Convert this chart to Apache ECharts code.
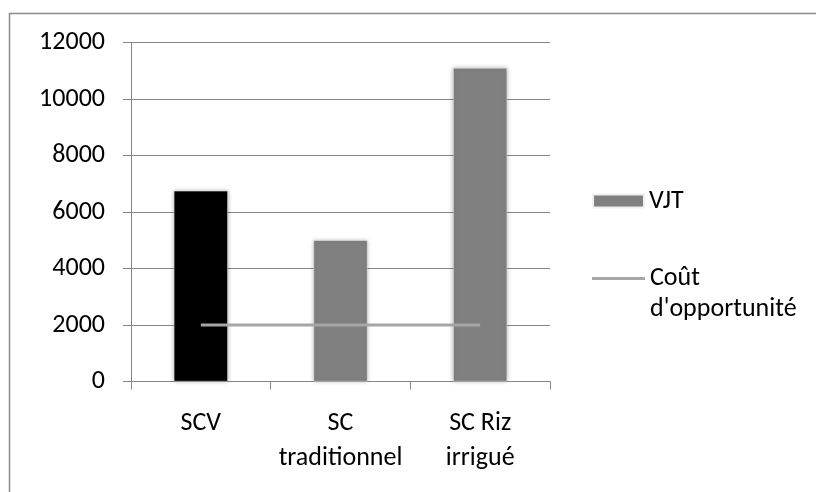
<!DOCTYPE html>
<html>
<head>
<meta charset="utf-8">
<script src="https://cdn.jsdelivr.net/npm/echarts@6/dist/echarts.min.js"></script>
<style>
html,body{margin:0;padding:0;background:#fff;}
#chart{width:816px;height:492px;}
</style>
</head>
<body>
<div id="chart"></div>
<script>
const categories = ['SCV', 'SC\ntraditionnel', 'SC Riz\nirrigué'];
const vjtValues = [6750, 5000, 11100];
const coutValues = [2000, 2000, 2000];
const barColors = ['#000000', '#808080', '#808080'];
const yTicks = { min: 0, max: 12000, interval: 2000 };
const seriesNames = ['VJT', "Coût\nd'opportunité"];

const FONT = 'Carlito, Lato, "Open Sans", sans-serif';
const FS = 26;
const chart = echarts.init(document.getElementById('chart'));
chart.setOption({
  animation: false,
  backgroundColor: '#ffffff',
  graphic: [{
    type: 'rect', shape: { x: 9.5, y: 13.5, width: 900, height: 600 },
    style: { fill: 'none', stroke: '#8c8c8c', lineWidth: 1.5 }, silent: true, z: -1
  }],
  grid: { left: 131, right: 266, top: 42.5, bottom: 110.5, containLabel: false },
  legend: [{
    orient: 'vertical', left: 587, top: 183,
    data: [{ name: seriesNames[0], icon: 'rect' }],
    itemWidth: 51, itemHeight: 13,
    textStyle: { fontFamily: FONT, fontSize: FS, color: '#000' }
  }, {
    orient: 'vertical', left: 587, top: 227,
    data: [{ name: seriesNames[1], icon: 'rect' }],
    itemWidth: 53, itemHeight: 3,
    formatter: function (name) { return ' \n' + name; },
    textStyle: { fontFamily: FONT, fontSize: FS, color: '#000', lineHeight: 31 }
  }],
  xAxis: {
    type: 'category', data: categories, boundaryGap: true,
    axisLine: { show: true, lineStyle: { color: '#868686', width: 1 } },
    axisTick: { show: true, length: 8, alignWithLabel: false, lineStyle: { color: '#868686' } },
    axisLabel: { fontFamily: FONT, fontSize: FS, color: '#000', lineHeight: 35, margin: 24, interval: 0 },
    splitLine: { show: false }
  },
  yAxis: {
    type: 'value', min: yTicks.min, max: yTicks.max, interval: yTicks.interval,
    axisLine: { show: true, lineStyle: { color: '#868686', width: 1 } },
    axisTick: { show: true, length: 8, lineStyle: { color: '#868686' } },
    axisLabel: { fontFamily: FONT, fontSize: FS, color: '#000', margin: 26, formatter: function (v) { return String(v); } },
    splitLine: { show: true, lineStyle: { color: '#868686', width: 1 } }
  },
  series: [{
    name: seriesNames[0], type: 'bar', barWidth: 54,
    itemStyle: { color: '#808080', shadowBlur: 4, shadowColor: 'rgba(0,0,0,0.3)', borderColor: '#f0f0f0', borderWidth: 0.5 },
    data: vjtValues.map((v, i) => ({ value: v, itemStyle: { color: barColors[i] } }))
  }, {
    name: seriesNames[1], type: 'line', data: coutValues,
    symbol: 'none', lineStyle: { color: '#a6a6a6', width: 3 }, itemStyle: { color: '#a6a6a6' },
    z: 3
  }]
});
</script>
</body>
</html>
